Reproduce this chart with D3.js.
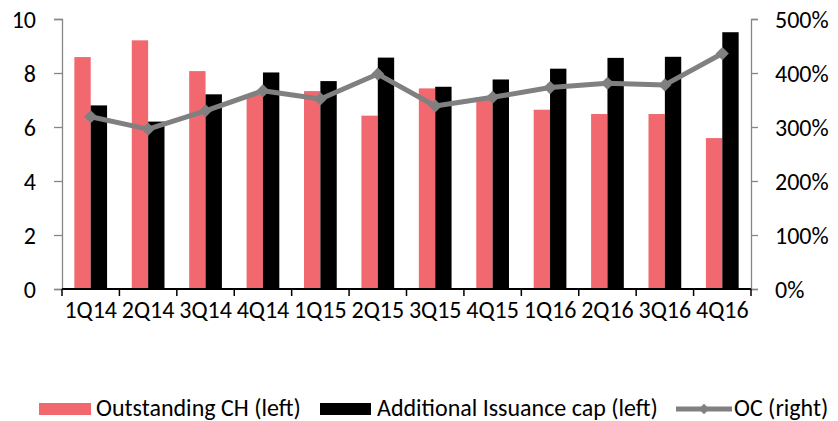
<!DOCTYPE html>
<html>
<head>
<meta charset="utf-8">
<script src="https://cdn.jsdelivr.net/npm/d3@7"></script>
<style>
  body { margin: 0; background: #fff; }
  svg text { font-family: Carlito, Calibri, 'Liberation Sans Narrow', 'Open Sans', sans-serif; fill: #000; }
</style>
</head>
<body>
<div id="chart"></div>
<script>

// Data
const quarters = ['1Q14', '2Q14', '3Q14', '4Q14', '1Q15', '2Q15', '3Q15', '4Q15', '1Q16', '2Q16', '3Q16', '4Q16']
const outstanding_ch = [8.59, 9.21, 8.07, 7.2, 7.33, 6.42, 7.43, 7.1, 6.64, 6.48, 6.48, 5.59]
const issuance_cap = [6.8, 6.2, 7.21, 8.02, 7.7, 8.57, 7.49, 7.76, 8.16, 8.56, 8.6, 9.51]
const oc_ratio = [3.19, 2.96, 3.30, 3.67, 3.52, 3.98, 3.39, 3.55, 3.73, 3.81, 3.78, 4.36]
const left_ticks = [0, 2, 4, 6, 8, 10]
const right_ticks = [0, 1, 2, 3, 4, 5]
const legend_labels = ['Outstanding CH (left)', 'Additional Issuance cap (left)', 'OC (right)']

const colors = { pink: '#F1686F', black: '#000000', gray: '#808080', axis: '#868686' }

////////////////////////////////////////////////////////////
// Layout
////////////////////////////////////////////////////////////

const W = 838
const H = 421
const plot = { left: 62, right: 751, top: 19, bottom: 289 }
const font_size = '24px'

const svg = d3.select('#chart')
  .append('svg')
  .attr('width', W)
  .attr('height', H)

// Scales
const x0 = d3.scaleBand()
  .domain(quarters)
  .range([plot.left, plot.right])
  .paddingInner(0.43)
  .paddingOuter(0.215)

const x1 = d3.scaleBand()
  .domain(['ch', 'cap'])
  .range([0, x0.bandwidth()])

const y_left = d3.scaleLinear().domain([0, 10]).range([plot.bottom, plot.top])
const y_right = d3.scaleLinear().domain([0, 5]).range([plot.bottom, plot.top])

////////////////////////////////////////////////////////////
// Axes
////////////////////////////////////////////////////////////

// left axis
let g_left = svg.append('g')
  .attr('transform', `translate(${plot.left},0)`)
  .call(d3.axisLeft(y_left).tickValues(left_ticks).tickSize(8).tickPadding(18))
g_left.select('.domain').attr('stroke', colors.axis).attr('stroke-width', 1.3)
g_left.selectAll('.tick line').attr('stroke', colors.axis).attr('stroke-width', 1.3)
g_left.selectAll('text').style('font-size', font_size).attr('dy', '0.34em')

// right axis
let g_right = svg.append('g')
  .attr('transform', `translate(${plot.right},0)`)
  .call(d3.axisRight(y_right).tickValues(right_ticks).tickSize(7).tickPadding(17)
    .tickFormat(d => d3.format('.0%')(d)))
g_right.select('.domain').attr('stroke', colors.axis).attr('stroke-width', 1.3)
g_right.selectAll('.tick line').attr('stroke', colors.axis).attr('stroke-width', 1.3)
g_right.selectAll('text').style('font-size', font_size).attr('dy', '0.34em')

////////////////////////////////////////////////////////////
// Bars
////////////////////////////////////////////////////////////

let groups = svg.append('g')
  .selectAll('g')
  .data(quarters)
  .enter()
  .append('g')
  .attr('transform', d => `translate(${x0(d)},0)`)

groups.append('rect')
  .attr('x', x1('ch'))
  .attr('width', x1.bandwidth())
  .attr('y', (d, i) => y_left(outstanding_ch[i]))
  .attr('height', (d, i) => y_left(0) - y_left(outstanding_ch[i]))
  .attr('fill', colors.pink)

groups.append('rect')
  .attr('x', x1('cap'))
  .attr('width', x1.bandwidth())
  .attr('y', (d, i) => y_left(issuance_cap[i]))
  .attr('height', (d, i) => y_left(0) - y_left(issuance_cap[i]))
  .attr('fill', colors.black)

// bottom axis, drawn over bars
let x_edges = d3.scaleLinear().domain([0, quarters.length]).range([plot.left, plot.right])
let g_bottom = svg.append('g')
  .attr('transform', `translate(0,${plot.bottom})`)
g_bottom.append('line')
  .attr('x1', plot.left).attr('x2', plot.right)
  .attr('stroke', '#000').attr('stroke-width', 2)
g_bottom.selectAll('.edge-tick')
  .data(d3.range(quarters.length + 1))
  .enter()
  .append('line')
  .attr('class', 'edge-tick')
  .attr('x1', d => x_edges(d)).attr('x2', d => x_edges(d))
  .attr('y1', 0).attr('y2', 7)
  .attr('stroke', '#000').attr('stroke-width', 1.5)
g_bottom.selectAll('text')
  .data(quarters)
  .enter()
  .append('text')
  .attr('x', d => x0(d) + x0.bandwidth() / 2)
  .attr('y', 29)
  .attr('text-anchor', 'middle')
  .style('font-size', font_size)
  .text(d => d)

////////////////////////////////////////////////////////////
// OC line
////////////////////////////////////////////////////////////

let line = d3.line()
  .x((d, i) => x0(quarters[i]) + x0.bandwidth() / 2)
  .y(d => y_right(d))

svg.append('path')
  .datum(oc_ratio)
  .attr('d', line)
  .attr('fill', 'none')
  .attr('stroke', colors.gray)
  .attr('stroke-width', 5)
  .attr('stroke-linejoin', 'round')

svg.append('g')
  .selectAll('path')
  .data(oc_ratio)
  .enter()
  .append('path')
  .attr('d', d3.symbol().type(d3.symbolDiamond2).size(110))
  .attr('transform', (d, i) => `translate(${x0(quarters[i]) + x0.bandwidth() / 2},${y_right(d)})`)
  .attr('fill', colors.gray)

////////////////////////////////////////////////////////////
// Legend
////////////////////////////////////////////////////////////

let legend = svg.append('g')
let lg_y = 408

legend.append('rect')
  .attr('x', 39).attr('y', lg_y - 5).attr('width', 52).attr('height', 12)
  .attr('fill', colors.pink)
legend.append('text')
  .attr('x', 96).attr('y', lg_y).attr('dy', '0.33em')
  .style('font-size', font_size)
  .text(legend_labels[0])

legend.append('rect')
  .attr('x', 320).attr('y', lg_y - 5).attr('width', 51).attr('height', 12)
  .attr('fill', colors.black)
legend.append('text')
  .attr('x', 377).attr('y', lg_y).attr('dy', '0.33em')
  .style('font-size', font_size)
  .text(legend_labels[1])

legend.append('line')
  .attr('x1', 676).attr('x2', 732).attr('y1', lg_y + 1).attr('y2', lg_y + 1)
  .attr('stroke', colors.gray).attr('stroke-width', 5)
legend.append('path')
  .attr('d', d3.symbol().type(d3.symbolDiamond2).size(70))
  .attr('transform', `translate(704,${lg_y + 1})`)
  .attr('fill', colors.gray)
legend.append('text')
  .attr('x', 734).attr('y', lg_y).attr('dy', '0.33em')
  .style('font-size', font_size)
  .text(legend_labels[2])

</script>
</body>
</html>
